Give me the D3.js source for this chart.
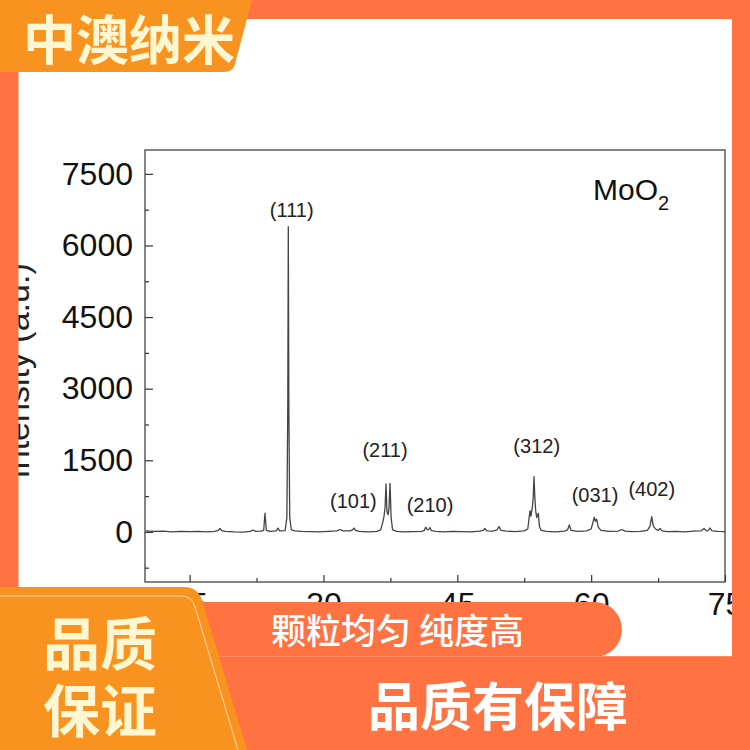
<!DOCTYPE html>
<html>
<head>
<meta charset="utf-8">
<script src="https://cdn.jsdelivr.net/npm/d3@7"></script>
<style>
  body { margin: 0; background: #fff; }
  svg { display: block; }
</style>
</head>
<body>
<div id="chart"></div>
<script>
// XRD scan of MoO2
let twoTheta = [
  10.1, 11, 12, 13, 14, 15, 16, 17, 17.8, 18.2, 18.4, 18.6, 19, 20, 21, 21.8, 22.1, 22.4,
  23, 23.3, 23.45, 23.6, 24, 24.7, 24.9, 25.1, 25.7, 25.9, 26.0, 26.06, 26.12, 26.22, 26.4,
  26.8, 27.5, 28.5, 29.5, 30.5, 31.5, 31.85, 32.2, 33, 33.25, 33.42, 33.6, 34, 35, 36,
  36.4, 36.65, 36.78, 36.9, 37.01, 37.12, 37.25, 37.35, 37.46, 37.58, 37.75, 38.2, 39, 40,
  41, 41.3, 41.46, 41.6, 41.75, 41.94, 42.1, 42.6, 43.5, 44.5, 45.5, 46.5, 47.5, 47.9, 48.1,
  48.3, 49, 49.45, 49.67, 49.9, 50.5, 51.5, 52.5, 52.9, 53.05, 53.15, 53.25, 53.4, 53.5,
  53.6, 53.68, 53.78, 53.9, 54.08, 54.2, 54.4, 55, 56, 57, 57.35, 57.55, 57.75, 58.5, 59.5,
  60.0, 60.2, 60.35, 60.48, 60.62, 60.8, 61.1, 62, 63, 63.46, 63.8, 64.5, 65.5, 66.3, 66.6,
  66.79, 66.95, 67.2, 67.5, 67.72, 67.95, 68.5, 69.5, 70.5, 71.5, 72.3, 72.65, 72.9, 73.1,
  73.32, 73.55, 74.2, 75
];
let intensity = [
  20, 10, 15, 0, 10, 5, 10, 0, 10, 30, 70, 25, 10, 0, -5, 10, 40, 10,
  15, 30, 390, 30, 10, 20, 80, 20, 25, 300, 2600, 6394, 2600, 300, 40,
  20, 10, 5, 0, 10, 20, 50, 20, 20, 40, 80, 30, 10, 0, 10,
  40, 200, 318, 500, 1003, 420, 360, 500, 1018, 300, 40, 10, 0, 5,
  10, 30, 100, 50, 40, 90, 25, 10, 0, 10, 5, 0, 15, 30, 70,
  20, 15, 40, 110, 30, 15, 5, 20, 60, 300, 444, 330, 500, 700,
  1156, 750, 450, 300, 390, 120, 30, 10, 0, 15, 40, 145, 30, 10, 20,
  60, 200, 306, 220, 264, 100, 30, 10, 15, 50, 15, 5, 10, 30, 120,
  318, 130, 60, 30, 70, 20, 5, 10, 0, 15, 20, 70, 20, 25,
  80, 20, 10, 5
];

// peak indexing
let peakNames = ["(111)", "(101)", "(211)", "(210)", "(312)", "(031)", "(402)"];
let peakTheta = [26.44, 33.35, 36.9, 41.94, 53.9, 60.43, 66.79];
let peakLabelY = [6600, 500, 1575, 423, 1647, 633, 752];

let xMajor = [15, 30, 45, 60, 75];
let xMinor = [22.5, 37.5, 52.5, 67.5];
let yMajor = [0, 1500, 3000, 4500, 6000, 7500];
let yMinor = [-750, 750, 2250, 3750, 5250, 6750];

let width = 750, height = 750;
let plot = { left: 145, right: 725, top: 150, bottom: 582 };

let orange = "#ff7242";
let amber = "#f8931f";
let cream = "#fff7d2";

let svg = d3.select("#chart").append("svg")
  .attr("width", width)
  .attr("height", height);

svg.append("rect").attr("width", width).attr("height", height).attr("fill", "#fff");

let x = d3.scaleLinear().domain([10, 75]).range([plot.left, plot.right]);
let y = d3.scaleLinear().domain([-1050, 8000]).range([plot.bottom, plot.top]);

let axisFont = "'Liberation Sans', Arial, sans-serif";

// axes, ticks point inwards
let gy = svg.append("g").attr("transform", `translate(${plot.left},0)`)
  .call(d3.axisLeft(y).tickValues(yMajor).tickSize(-8).tickPadding(12).tickFormat(d3.format("d")));
let gy2 = svg.append("g").attr("transform", `translate(${plot.left},0)`)
  .call(d3.axisLeft(y).tickValues(yMinor).tickSize(-4).tickFormat(""));
let gx = svg.append("g").attr("transform", `translate(0,${plot.bottom})`)
  .call(d3.axisBottom(x).tickValues(xMajor).tickSize(-7).tickPadding(10).tickFormat(d3.format("d")));
let gx2 = svg.append("g").attr("transform", `translate(0,${plot.bottom})`)
  .call(d3.axisBottom(x).tickValues(xMinor).tickSize(-4).tickFormat(""));

[gy, gy2, gx, gx2].forEach(g => {
  g.select(".domain").remove();
  g.selectAll("line").attr("stroke", "#333").attr("stroke-width", 1.2);
  g.selectAll("text")
    .attr("font-family", axisFont)
    .attr("font-size", 32)
    .attr("fill", "#111");
});

svg.append("rect")
  .attr("x", plot.left).attr("y", plot.top)
  .attr("width", plot.right - plot.left)
  .attr("height", plot.bottom - plot.top)
  .attr("fill", "none")
  .attr("stroke", "#444")
  .attr("stroke-width", 1.3);

// axis title, mostly hidden behind the orange border
svg.append("text")
  .attr("transform", "translate(29,371)rotate(-90)")
  .attr("text-anchor", "middle")
  .attr("font-family", axisFont)
  .attr("font-size", 34)
  .attr("fill", "#222")
  .text("Intensity (a.u.)");

// the scan
let line = d3.line()
  .x((d, i) => x(twoTheta[i]))
  .y(d => y(d));

svg.append("path")
  .datum(intensity)
  .attr("d", line)
  .attr("fill", "none")
  .attr("stroke", "#444")
  .attr("stroke-width", 1.3)
  .attr("stroke-linejoin", "round");

svg.selectAll(".hkl")
  .data(peakNames)
  .enter()
  .append("text").classed("hkl", true)
  .attr("x", (d, i) => x(peakTheta[i]))
  .attr("y", (d, i) => y(peakLabelY[i]))
  .attr("text-anchor", "middle")
  .attr("font-family", axisFont)
  .attr("font-size", 20)
  .attr("fill", "#222")
  .text(d => d);

let formula = svg.append("text")
  .attr("x", plot.right - 132)
  .attr("y", plot.top + 50)
  .attr("font-family", axisFont)
  .attr("font-size", 30)
  .attr("fill", "#111");
formula.append("tspan").text("MoO");
formula.append("tspan").attr("font-size", 20).attr("dy", 10).text("2");

// ---- banner decorations on top ----
let cjk = "'Noto Sans CJK SC', 'Noto Sans', sans-serif";

svg.append("rect").attr("x", 0).attr("y", 0).attr("width", width).attr("height", 19).attr("fill", orange);
svg.append("rect").attr("x", 0).attr("y", 0).attr("width", 18.5).attr("height", height).attr("fill", orange);
svg.append("rect").attr("x", 732).attr("y", 0).attr("width", 18).attr("height", height).attr("fill", orange);

// top-left badge
svg.append("path")
  .attr("d", "M0,0H252L235,64Q233,72 224,72H0Z")
  .attr("fill", amber);
svg.append("text")
  .attr("x", 23).attr("y", 60)
  .attr("font-family", cjk)
  .attr("font-size", 53)
  .attr("font-weight", 700)
  .attr("fill", cream)
  .text("中澳纳米");

// pill and lower band
svg.append("rect")
  .attr("x", 150).attr("y", 602)
  .attr("width", 472).attr("height", 55)
  .attr("rx", 27.5)
  .attr("fill", orange);
svg.append("rect")
  .attr("x", 190).attr("y", 656)
  .attr("width", 560).attr("height", 94)
  .attr("fill", orange);
svg.append("line")
  .attr("x1", 200).attr("x2", 732).attr("y1", 656.5).attr("y2", 656.5)
  .attr("stroke", "#ff8a60").attr("stroke-width", 1);

svg.append("text")
  .attr("x", 271).attr("y", 644)
  .attr("font-family", cjk)
  .attr("font-size", 35)
  .attr("font-weight", 500)
  .attr("fill", "#fff")
  .text("颗粒均匀 纯度高");

svg.append("text")
  .attr("x", 368).attr("y", 726)
  .attr("font-family", cjk)
  .attr("font-size", 52)
  .attr("font-weight", 700)
  .attr("fill", "#fff")
  .text("品质有保障");

// bottom-left amber tab
svg.append("path")
  .attr("d", "M0,587H184Q199,587 203,603L247,750H0Z")
  .attr("fill", amber);
svg.append("path")
  .attr("d", "M0,596H182Q192,596 195,607L238,750")
  .attr("fill", "none")
  .attr("stroke", "#ffdca8")
  .attr("stroke-width", 1);

svg.append("text")
  .attr("x", 43).attr("y", 665)
  .attr("font-family", cjk)
  .attr("font-size", 57)
  .attr("font-weight", 700)
  .attr("fill", cream)
  .text("品质");
svg.append("text")
  .attr("x", 43).attr("y", 732)
  .attr("font-family", cjk)
  .attr("font-size", 57)
  .attr("font-weight", 700)
  .attr("fill", cream)
  .text("保证");
</script>
</body>
</html>
